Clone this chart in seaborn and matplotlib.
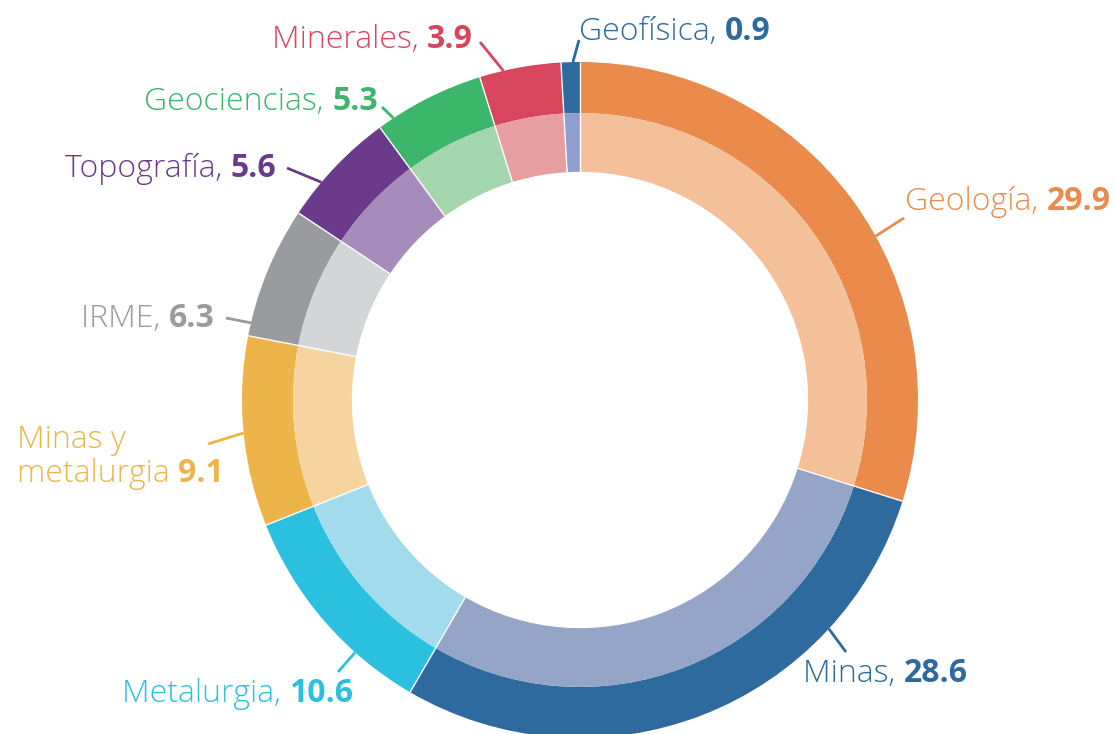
import numpy as np
import matplotlib
matplotlib.use("Agg")
import matplotlib.pyplot as plt
import seaborn as sns

# Distribution by area (%)
areas = ["Geología", "Minas", "Metalurgia", "Minas y\nmetalurgia", "IRME",
         "Topografía", "Geociencias", "Minerales", "Geofísica"]
values = [29.9, 28.6, 10.6, 9.1, 6.3, 5.6, 5.3, 3.9, 0.9]

outer_colors = ["#EA8B4B", "#2E6A9E", "#2CC0E0", "#EDB44A", "#9A9B9E",
                "#6B3A8A", "#3BB66A", "#D7465C", "#2E6A9E"]
inner_colors = ["#F4C09A", "#94A5C8", "#A2DCEC", "#F5D4A0", "#D4D5D7",
                "#A68BBB", "#A3D6AC", "#E69E9E", "#8F9ECF"]

sns.set_theme(style="white")
plt.rcParams["font.family"] = ["Open Sans", "DejaVu Sans"]

W, H = 1115, 734
CX, CY, R = 580, 400, 338  # ring centre and outer radius in pixels


def px(x, y):
    """Pixel position (from top-left) to data units (radius = 1)."""
    return (x - CX) / R, (CY - y) / R


fig = plt.figure(figsize=(W / 100, H / 100), dpi=100)
ax = fig.add_axes([0, 0, 1, 1])

outer_pal = sns.color_palette(outer_colors)
inner_pal = sns.color_palette(inner_colors)

ax.pie(values, radius=1.0, startangle=90, counterclock=False,
       colors=outer_pal, wedgeprops=dict(width=0.151, linewidth=0))
ax.pie(values, radius=0.849, startangle=90, counterclock=False,
       colors=inner_pal, wedgeprops=dict(width=0.174, linewidth=0))

# thin white separators between segments
total = float(np.sum(values))
bounds = np.concatenate([[0], np.cumsum(values)]) / total * 360.0
for b in bounds[:-1]:
    t = np.deg2rad(b)
    ax.plot([0.675 * np.sin(t), 1.0 * np.sin(t)],
            [0.675 * np.cos(t), 1.0 * np.cos(t)],
            color="white", lw=1.0, solid_capstyle="butt", zorder=3)

ax.set_xlim(-CX / R, (W - CX) / R)
ax.set_ylim(-(H - CY) / R, CY / R)
ax.set_aspect("equal")
ax.axis("off")

# label layout: leader angle (clockwise from top), leader end, text anchor, alignment
layout = {
    "Geología":            dict(ang=61.0,  end=(904, 218), pos=(905, 210), ha="left"),
    "Minas":               dict(ang=132.6, end=(846, 652), pos=(803, 682), ha="left"),
    "Metalurgia":          dict(ang=221.7, end=(338, 672), pos=(122, 702), ha="left"),
    "Minas y\nmetalurgia": dict(ang=264.4, end=(208, 444), pos=(17, 482), ha="left"),
    "IRME":                dict(ang=283.2, end=(226, 318), pos=(215, 327), ha="right"),
    "Topografía":          dict(ang=310.1, end=(287, 168), pos=(276, 177), ha="right"),
    "Geociencias":         dict(ang=326.5, end=(382, 107), pos=(378, 110), ha="right"),
    "Minerales":           dict(ang=346.9, end=(480, 42),  pos=(473, 48),  ha="right"),
    "Geofísica":           dict(ang=358.8, end=(579, 40),  pos=(579, 40),  ha="left"),
}

FS = 23
fig.canvas.draw()
renderer = fig.canvas.get_renderer()

for name, val, col in zip(areas, values, outer_colors):
    L = layout[name]
    t = np.deg2rad(L["ang"])
    ex, ey = px(*L["end"])
    ax.plot([np.sin(t) * 1.0, ex], [np.cos(t) * 1.0, ey],
            color=col, lw=2.0, solid_capstyle="butt", zorder=4)

    vtxt = f"{val:.1f}"
    if "\n" in name:
        first, second = name.split("\n")
        name_txt = second + " "
        x0, y0 = px(*L["pos"])
        x1, y1 = px(L["pos"][0], L["pos"][1] - 34)
        ax.text(x1, y1, first, color=col, fontsize=FS, fontweight="light",
                ha="left", va="baseline")
    else:
        name_txt = name + ", "
        x0, y0 = px(*L["pos"])

    if L["ha"] == "left":
        tn = ax.text(x0, y0, name_txt, color=col, fontsize=FS,
                     fontweight="light", ha="left", va="baseline")
        wpx = tn.get_window_extent(renderer).width
        ax.text(x0 + wpx / R, y0, vtxt, color=col, fontsize=FS,
                fontweight="bold", ha="left", va="baseline")
    else:
        tv = ax.text(x0, y0, vtxt, color=col, fontsize=FS,
                     fontweight="bold", ha="right", va="baseline")
        wpx = tv.get_window_extent(renderer).width
        ax.text(x0 - wpx / R, y0, name_txt, color=col, fontsize=FS,
                fontweight="light", ha="right", va="baseline")

fig.savefig("out.png", dpi=100, facecolor="white")
